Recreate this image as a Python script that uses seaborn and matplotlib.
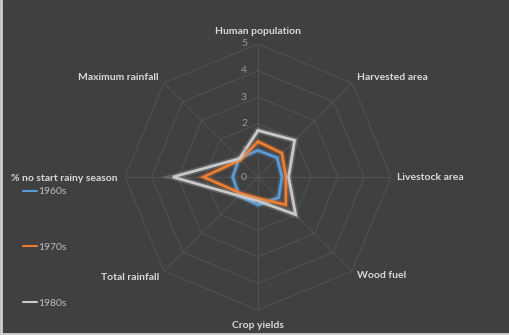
import numpy as np
import pandas as pd
import matplotlib
matplotlib.use("Agg")
import matplotlib.pyplot as plt
import matplotlib.patheffects as pe
from matplotlib.lines import Line2D
from matplotlib.transforms import ScaledTranslation
import seaborn as sns

# Indicators, clockwise from the top
categories = ["Human population", "Harvested area", "Livestock area", "Wood fuel",
              "Crop yields", "Total rainfall", "% no start rainy season", "Maximum rainfall"]
decades = ["1960s", "1970s", "1980s"]
values_1960s = [1.0, 1.02, 0.9, 1.1, 1.05, 1.0, 0.95, 1.0]
values_1970s = [1.33, 1.27, 1.05, 1.48, 0.8, 0.88, 2.05, 0.92]
values_1980s = [1.75, 1.95, 1.15, 2.0, 0.9, 1.0, 3.2, 0.98]
ticks = [0, 1, 2, 3, 4, 5]

BG = "#404040"
GRID = "#525252"
TXT = "#d9d9d9"
palette = {"1960s": "#5b9bd5", "1970s": "#ed7d31", "1980s": "#c9c9c9"}

sns.set_theme(style="dark")
plt.rcParams["font.family"] = ["Lato", "DejaVu Sans"]

n = len(categories)
angles = np.linspace(0, 2 * np.pi, n, endpoint=False)

rows = []
for dec, vals in zip(decades, [values_1960s, values_1970s, values_1980s]):
    closed = list(vals) + [vals[0]]
    th = list(angles) + [2 * np.pi]
    for i, (t, v) in enumerate(zip(th, closed)):
        rows.append({"decade": dec, "theta": t, "value": v, "order": i})
df = pd.DataFrame(rows)

fig = plt.figure(figsize=(5.09, 3.35), dpi=100)
fig.patch.set_facecolor(BG)
ax = fig.add_axes([125 / 509, 25 / 335, 266 / 509, 266 / 335], projection="polar")
ax.set_facecolor(BG)
ax.set_theta_zero_location("N")
ax.set_theta_direction(-1)
ax.set_ylim(0, 5)
ax.grid(False)
ax.spines["polar"].set_visible(False)
ax.set_xticks([])
ax.set_yticks([])
ax.patch.set_alpha(0)

# Octagonal web
ring_t = list(angles) + [angles[0]]
for r in ticks[1:]:
    ax.plot(ring_t, [r] * (n + 1), color=GRID, lw=0.75, zorder=1)
for a in angles:
    ax.plot([a, a], [0, 5], color=GRID, lw=0.75, zorder=1)

sns.lineplot(data=df, x="theta", y="value", hue="decade", palette=palette,
             sort=False, estimator=None, units="decade", lw=2.0, ax=ax,
             legend=False, zorder=3)
for line in ax.lines[-3:]:
    line.set_path_effects([pe.Stroke(linewidth=4.5, foreground=line.get_color(), alpha=0.22),
                           pe.Normal()])
    line.set_solid_joinstyle("miter")

# Radial tick labels, left of the top spoke
off = ScaledTranslation(-14 / 100, 0, fig.dpi_scale_trans)
for t in ticks:
    ax.text(0, t, str(t), transform=ax.transData + off, ha="center", va="center",
            fontsize=7.5, color="#9a9a9a", zorder=4)

# Category labels in figure pixels
label_pos = [
    (258, 31, "center"), (357, 78, "left"), (397, 177, "left"), (357, 276, "left"),
    (258, 325, "center"), (159, 277, "right"), (118, 178, "right"), (159, 78, "right"),
]
for name, (x, y, ha) in zip(categories, label_pos):
    fig.text(x / 509, 1 - y / 335, name, ha=ha, va="center", fontsize=7.5,
             fontweight="bold", color=TXT)

handles = [Line2D([], [], color=palette[d], lw=1.5) for d in decades]
leg = fig.legend(handles, decades, loc="upper left", bbox_to_anchor=(18 / 509, 1 - 182 / 335),
                 frameon=False, fontsize=7.5, handlelength=1.3, handletextpad=0.1,
                 labelspacing=4.45, borderpad=0, labelcolor="#bdbdbd")

# Light frame along the left and bottom edges
fig.add_artist(Line2D([0.002, 0.002], [0, 1], transform=fig.transFigure, color="#d0d0d0", lw=2))
fig.add_artist(Line2D([0, 1], [0.004, 0.004], transform=fig.transFigure, color="#d0d0d0", lw=2))

fig.savefig("out.png", dpi=100, facecolor=BG)
